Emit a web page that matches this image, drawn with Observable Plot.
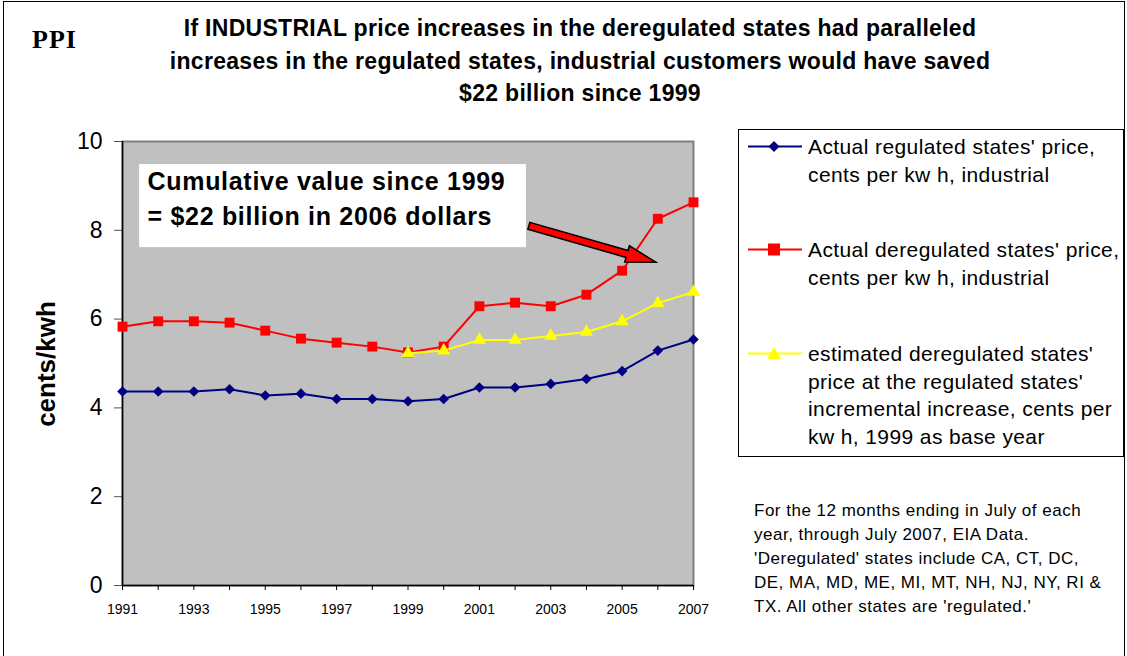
<!DOCTYPE html>
<html><head><meta charset="utf-8">
<script src="https://cdn.jsdelivr.net/npm/d3@7"></script>
<script src="https://cdn.jsdelivr.net/npm/@observablehq/plot@0.6"></script>
<style>
body{margin:0;background:#fff;font-family:"Liberation Sans",Arial,sans-serif;}
#wrap{position:relative;width:1127px;height:656px;overflow:hidden;background:#fff;}
#frameBorder{position:absolute;left:3px;top:1px;width:1122px;height:700px;border:1px solid #000;box-sizing:border-box;}
#chart{position:absolute;left:0;top:0;}
.title{position:absolute;left:130px;width:900px;text-align:center;font-weight:bold;font-size:23px;letter-spacing:0.3px;color:#000;line-height:32.5px;top:12px;}
#ppi{position:absolute;left:32px;top:25px;font-family:"Liberation Serif","DejaVu Serif",serif;font-weight:bold;font-size:26px;letter-spacing:1px;}
#ylab{position:absolute;left:46px;top:364px;transform:translate(-50%,-50%) rotate(-90deg);font-weight:bold;font-size:26px;white-space:nowrap;}
#legend{position:absolute;left:738px;top:129px;width:386px;height:328px;border:1px solid #000;box-sizing:border-box;}
.li{position:absolute;left:0;width:380px;}
.li svg{position:absolute;left:8px;}
.li .t{position:absolute;left:69px;font-size:21px;letter-spacing:0.4px;line-height:27.5px;white-space:nowrap;}
#note{position:absolute;left:754px;top:499px;font-size:17px;letter-spacing:0.5px;line-height:24px;white-space:nowrap;}
</style></head>
<body>
<div id="wrap">
  <div id="chart"></div>
  <div id="frameBorder"></div>
  <div id="ppi">PPI</div>
  <div class="title" id="title"></div>
  <div id="ylab">cents/kwh</div>
  <div id="legend"></div>
  <div id="note"></div>
</div>
<script>
// ---- data ----
const years = [1991,1992,1993,1994,1995,1996,1997,1998,1999,2000,2001,2002,2003,2004,2005,2006,2007];
const regulated = [4.37,4.37,4.37,4.42,4.28,4.32,4.20,4.20,4.15,4.20,4.46,4.46,4.54,4.65,4.83,5.29,5.54];
const deregulated = [5.83,5.95,5.95,5.92,5.74,5.56,5.47,5.38,5.25,5.38,6.29,6.37,6.29,6.55,7.09,8.26,8.63];
const estYears = [1999,2000,2001,2002,2003,2004,2005,2006,2007];
const estimated = [5.23,5.29,5.53,5.53,5.62,5.71,5.95,6.36,6.61];
const yTicks = [0,2,4,6,8,10];
const xTickLabels = [1991,1993,1995,1997,1999,2001,2003,2005,2007];
const seriesNames = [
  ["Actual regulated states' price,","cents per kw h, industrial"],
  ["Actual deregulated states' price,","cents per kw h, industrial"],
  ["estimated deregulated states'","price at the regulated states'","incremental increase, cents per","kw h, 1999 as base year"]
];
const titleLines = ["If INDUSTRIAL price increases in the deregulated states had paralleled",
  "increases in the regulated states, industrial customers would have saved",
  "$22 billion since 1999"];
const noteLines = ["For the 12 months ending in July of each","year, through July 2007, EIA Data.",
  "'Deregulated' states include CA, CT, DC,","DE, MA, MD, ME, MI, MT, NH, NJ, NY, RI &",
  "TX.  All other states are 'regulated.'"];
const annotationLines = ["Cumulative value since 1999","= $22 billion in 2006 dollars"];
// annotation anchors in data units (year, cents/kwh)
const annoBox = {x1:1991.48, x2:2002.32, y1:7.61, y2:9.48};
const annoText = {x:1991.70, y:[9.08,8.31]};
const arrowFrom = [2002.40, 8.09], arrowTo = [2005.96, 7.27];

const reg = years.map((y,i)=>({year:y, v:regulated[i]}));
const dereg = years.map((y,i)=>({year:y, v:deregulated[i]}));
const est = estYears.map((y,i)=>({year:y, v:estimated[i]}));

const navy="#000080", red="#FF0000", yellow="#FFFF00";

const chart = Plot.plot({
  width:1127, height:656,
  marginLeft:122, marginRight:434, marginTop:141, marginBottom:71,
  style:{fontFamily:"Liberation Sans, Arial, sans-serif", background:"transparent", color:"#000", overflow:"visible"},
  x:{domain:[1991,2007]},
  y:{domain:[0,10]},
  marks:[
    Plot.frame({fill:"#C0C0C0", stroke:"#808080", strokeWidth:2}),
    Plot.axisY({ticks:yTicks, tickSize:8, tickPadding:12, fontSize:23, label:null, stroke:"#555"}),
    Plot.axisX({ticks:years, tickSize:5, tickPadding:14, fontSize:14, label:null, tickFormat:d=>xTickLabels.includes(d)?String(d):"", stroke:"#000"}),
    Plot.ruleX([1991],{stroke:"#000", strokeWidth:1.5}),
    Plot.ruleY([0],{stroke:"#000", strokeWidth:1.5}),
    Plot.rect([annoBox],{x1:"x1",x2:"x2",y1:"y1",y2:"y2",fill:"#fff"}),
    Plot.text(annotationLines,{x:()=>annoText.x, y:(d,i)=>annoText.y[i], text:d=>d, textAnchor:"start", fontSize:25, fontWeight:"bold", fill:"#000", className:"anno"}),
    Plot.line(reg,{x:"year",y:"v",stroke:navy,strokeWidth:2}),
    Plot.dot(reg,{x:"year",y:"v",symbol:"diamond2",r:4.8,fill:navy,stroke:"none"}),
    Plot.line(dereg,{x:"year",y:"v",stroke:red,strokeWidth:2}),
    Plot.dot(dereg,{x:"year",y:"v",symbol:"square2",r:6.3,fill:red,stroke:"none"}),
    Plot.line(est,{x:"year",y:"v",stroke:yellow,strokeWidth:2}),
    Plot.dot(est,{x:"year",y:"v",symbol:"triangle2",r:6.3,fill:yellow,stroke:"none"}),
    (index, scales) => {
      const sx = scales.x, sy = scales.y;
      const S=[sx(arrowFrom[0]), sy(arrowFrom[1])], E=[sx(arrowTo[0]), sy(arrowTo[1])];
      const dx=E[0]-S[0], dy=E[1]-S[1], L=Math.hypot(dx,dy);
      const u=[dx/L,dy/L], n=[-u[1],u[0]];
      const w=3.6, hw=8.5, hl=30;
      const H=[E[0]-u[0]*hl, E[1]-u[1]*hl];
      const p=(b,k)=>[b[0]+n[0]*k, b[1]+n[1]*k];
      const pts=[p(S,w),p(H,w),p(H,hw),E,p(H,-hw),p(H,-w),p(S,-w)];
      const g=document.createElementNS("http://www.w3.org/2000/svg","polygon");
      g.setAttribute("points", pts.map(q=>q.join(",")).join(" "));
      g.setAttribute("fill", red); g.setAttribute("stroke","#000"); g.setAttribute("stroke-width","1.5");
      return g;
    }
  ]
});
document.getElementById("chart").appendChild(chart);
d3.select(chart).selectAll(".anno text").style("letter-spacing","0.7px");

document.getElementById("title").innerHTML = titleLines.map(t=>`<div>${t.replace(/&/g,"&amp;")}</div>`).join("");
document.getElementById("note").innerHTML = noteLines.map(t=>`<div>${t.replace(/&/g,"&amp;")}</div>`).join("");

const legendTops = [3, 106, 210];
const markerSvgs = [
  `<polygon points="27,2 32.5,7.5 27,13 21.5,7.5" fill="${navy}"/>`,
  `<rect x="21" y="1.5" width="12" height="12" fill="${red}"/>`,
  `<polygon points="27,1 34,13 20,13" fill="${yellow}"/>`
];
const colors=[navy,red,yellow];
document.getElementById("legend").innerHTML = seriesNames.map((lines,i)=>`
  <div class="li" style="top:${legendTops[i]}px">
    <svg width="56" height="15" style="top:6px"><line x1="1" x2="55" y1="7.5" y2="7.5" stroke="${colors[i]}" stroke-width="2"/>${markerSvgs[i]}</svg>
    <div class="t">${lines.map(l=>`<div>${l}</div>`).join("")}</div>
  </div>`).join("");
</script>
</body></html>
